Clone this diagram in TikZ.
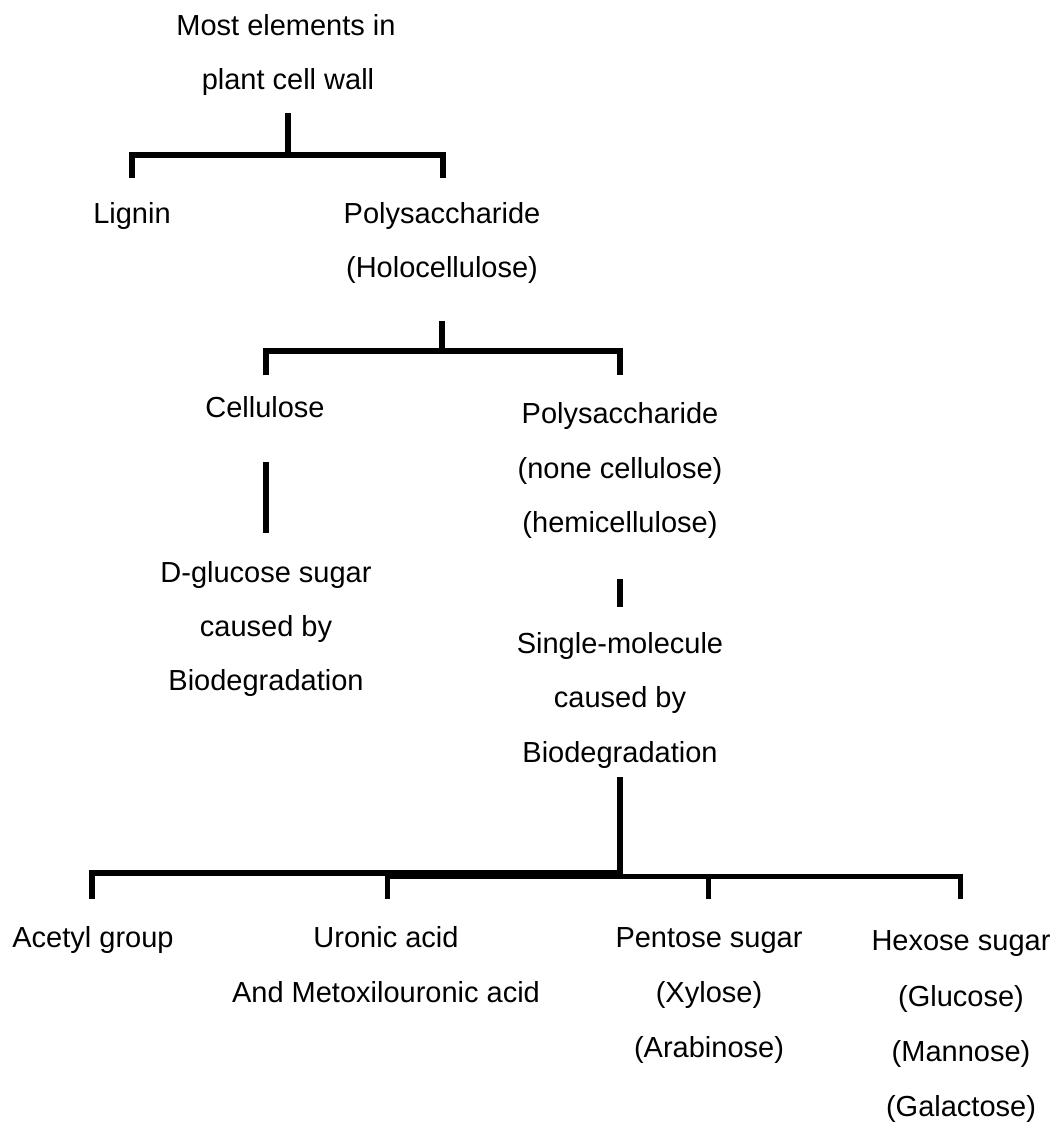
\documentclass[tikz,border=0pt]{standalone}
\usepackage{fontspec}
\setmainfont{Liberation Sans}
\begin{document}
\begin{tikzpicture}[x=1pt,y=-1pt,
  lbl/.style={anchor=base,inner sep=0pt,font=\fontsize{29}{34}\selectfont},
  conn/.style={line width=5.5pt,line join=miter,line cap=butt,black}]
\useasboundingbox (0,0) rectangle (1058,1122);
% texts
\node[lbl] (root1) at (286,35) {Most elements in};
\node[lbl] (root2) at (288,89) {plant cell wall};
\node[lbl] (lignin) at (132,223) {Lignin};
\node[lbl] (poly1) at (442,223) {Polysaccharide};
\node[lbl] (poly2) at (442,277) {(Holocellulose)};
\node[lbl] (cell) at (265,417) {Cellulose};
\node[lbl] (hemi1) at (620,423) {Polysaccharide};
\node[lbl] (hemi2) at (620,478) {(none cellulose)};
\node[lbl] (hemi3) at (620,532) {(hemicellulose)};
\node[lbl] (dg1) at (266,582) {D-glucose sugar};
\node[lbl] (dg2) at (266,636) {caused by};
\node[lbl] (dg3) at (266,690) {Biodegradation};
\node[lbl] (sm1) at (620,653) {Single-molecule};
\node[lbl] (sm2) at (620,707) {caused by};
\node[lbl] (sm3) at (620,762) {Biodegradation};
\node[lbl] (acetyl) at (93,947) {Acetyl group};
\node[lbl] (uron1) at (386,947) {Uronic acid};
\node[lbl] (uron2) at (386,1002) {And Metoxilouronic acid};
\node[lbl] (pent1) at (709,947) {Pentose sugar};
\node[lbl] (pent2) at (709,1002) {(Xylose)};
\node[lbl] (pent3) at (709,1057) {(Arabinose)};
\node[lbl] (hex1) at (961,950) {Hexose sugar};
\node[lbl] (hex2) at (961,1006) {(Glucose)};
\node[lbl] (hex3) at (961,1061) {(Mannose)};
\node[lbl] (hex4) at (961,1116) {(Galactose)};
% coordinates of connector ends
\coordinate (a0) at (288,113);
\coordinate (a1) at (288,155);
\coordinate (aL) at (132,155);
\coordinate (aR) at (443,155);
\coordinate (aLd) at (132,178);
\coordinate (aRd) at (443,178);
\coordinate (b0) at (442,321);
\coordinate (b1) at (442,351);
\coordinate (bL) at (266,351);
\coordinate (bR) at (620,351);
\coordinate (bLd) at (266,375);
\coordinate (bRd) at (620,375);
\coordinate (c0) at (266,462);
\coordinate (c1) at (266,533);
\coordinate (d0) at (620,579);
\coordinate (d1) at (620,607);
\coordinate (e0) at (620,777);
\coordinate (e1) at (620,876);
\coordinate (f1) at (92,873);
\coordinate (f1d) at (92,899);
\coordinate (f2) at (387,873);
\coordinate (f2b) at (387,876);
\coordinate (f2d) at (387,899);
\coordinate (f3) at (708,876);
\coordinate (f3d) at (708,899);
\coordinate (f4) at (960,876);
\coordinate (f4d) at (960,899);
\coordinate (fm) at (620,873);
% connectors
\draw[conn] (a0) -- (a1);
\draw[conn] (aLd) -- (aL) -- (aR) -- (aRd);
\draw[conn] (b0) -- (b1);
\draw[conn] (bLd) -- (bL) -- (bR) -- (bRd);
\draw[conn,line width=6pt] (c0) -- (c1);
\draw[conn,line width=6pt] (d0) -- (d1);
\draw[conn] (e0) -- (e1);
\draw[conn] (f1d) -- (f1) -- (fm);
\draw[conn,line width=5pt] (f2d) -- (f2b) -- (f4) -- (f4d);
\draw[conn,line width=5pt] (f3) -- (f3d);
\end{tikzpicture}
\end{document}
